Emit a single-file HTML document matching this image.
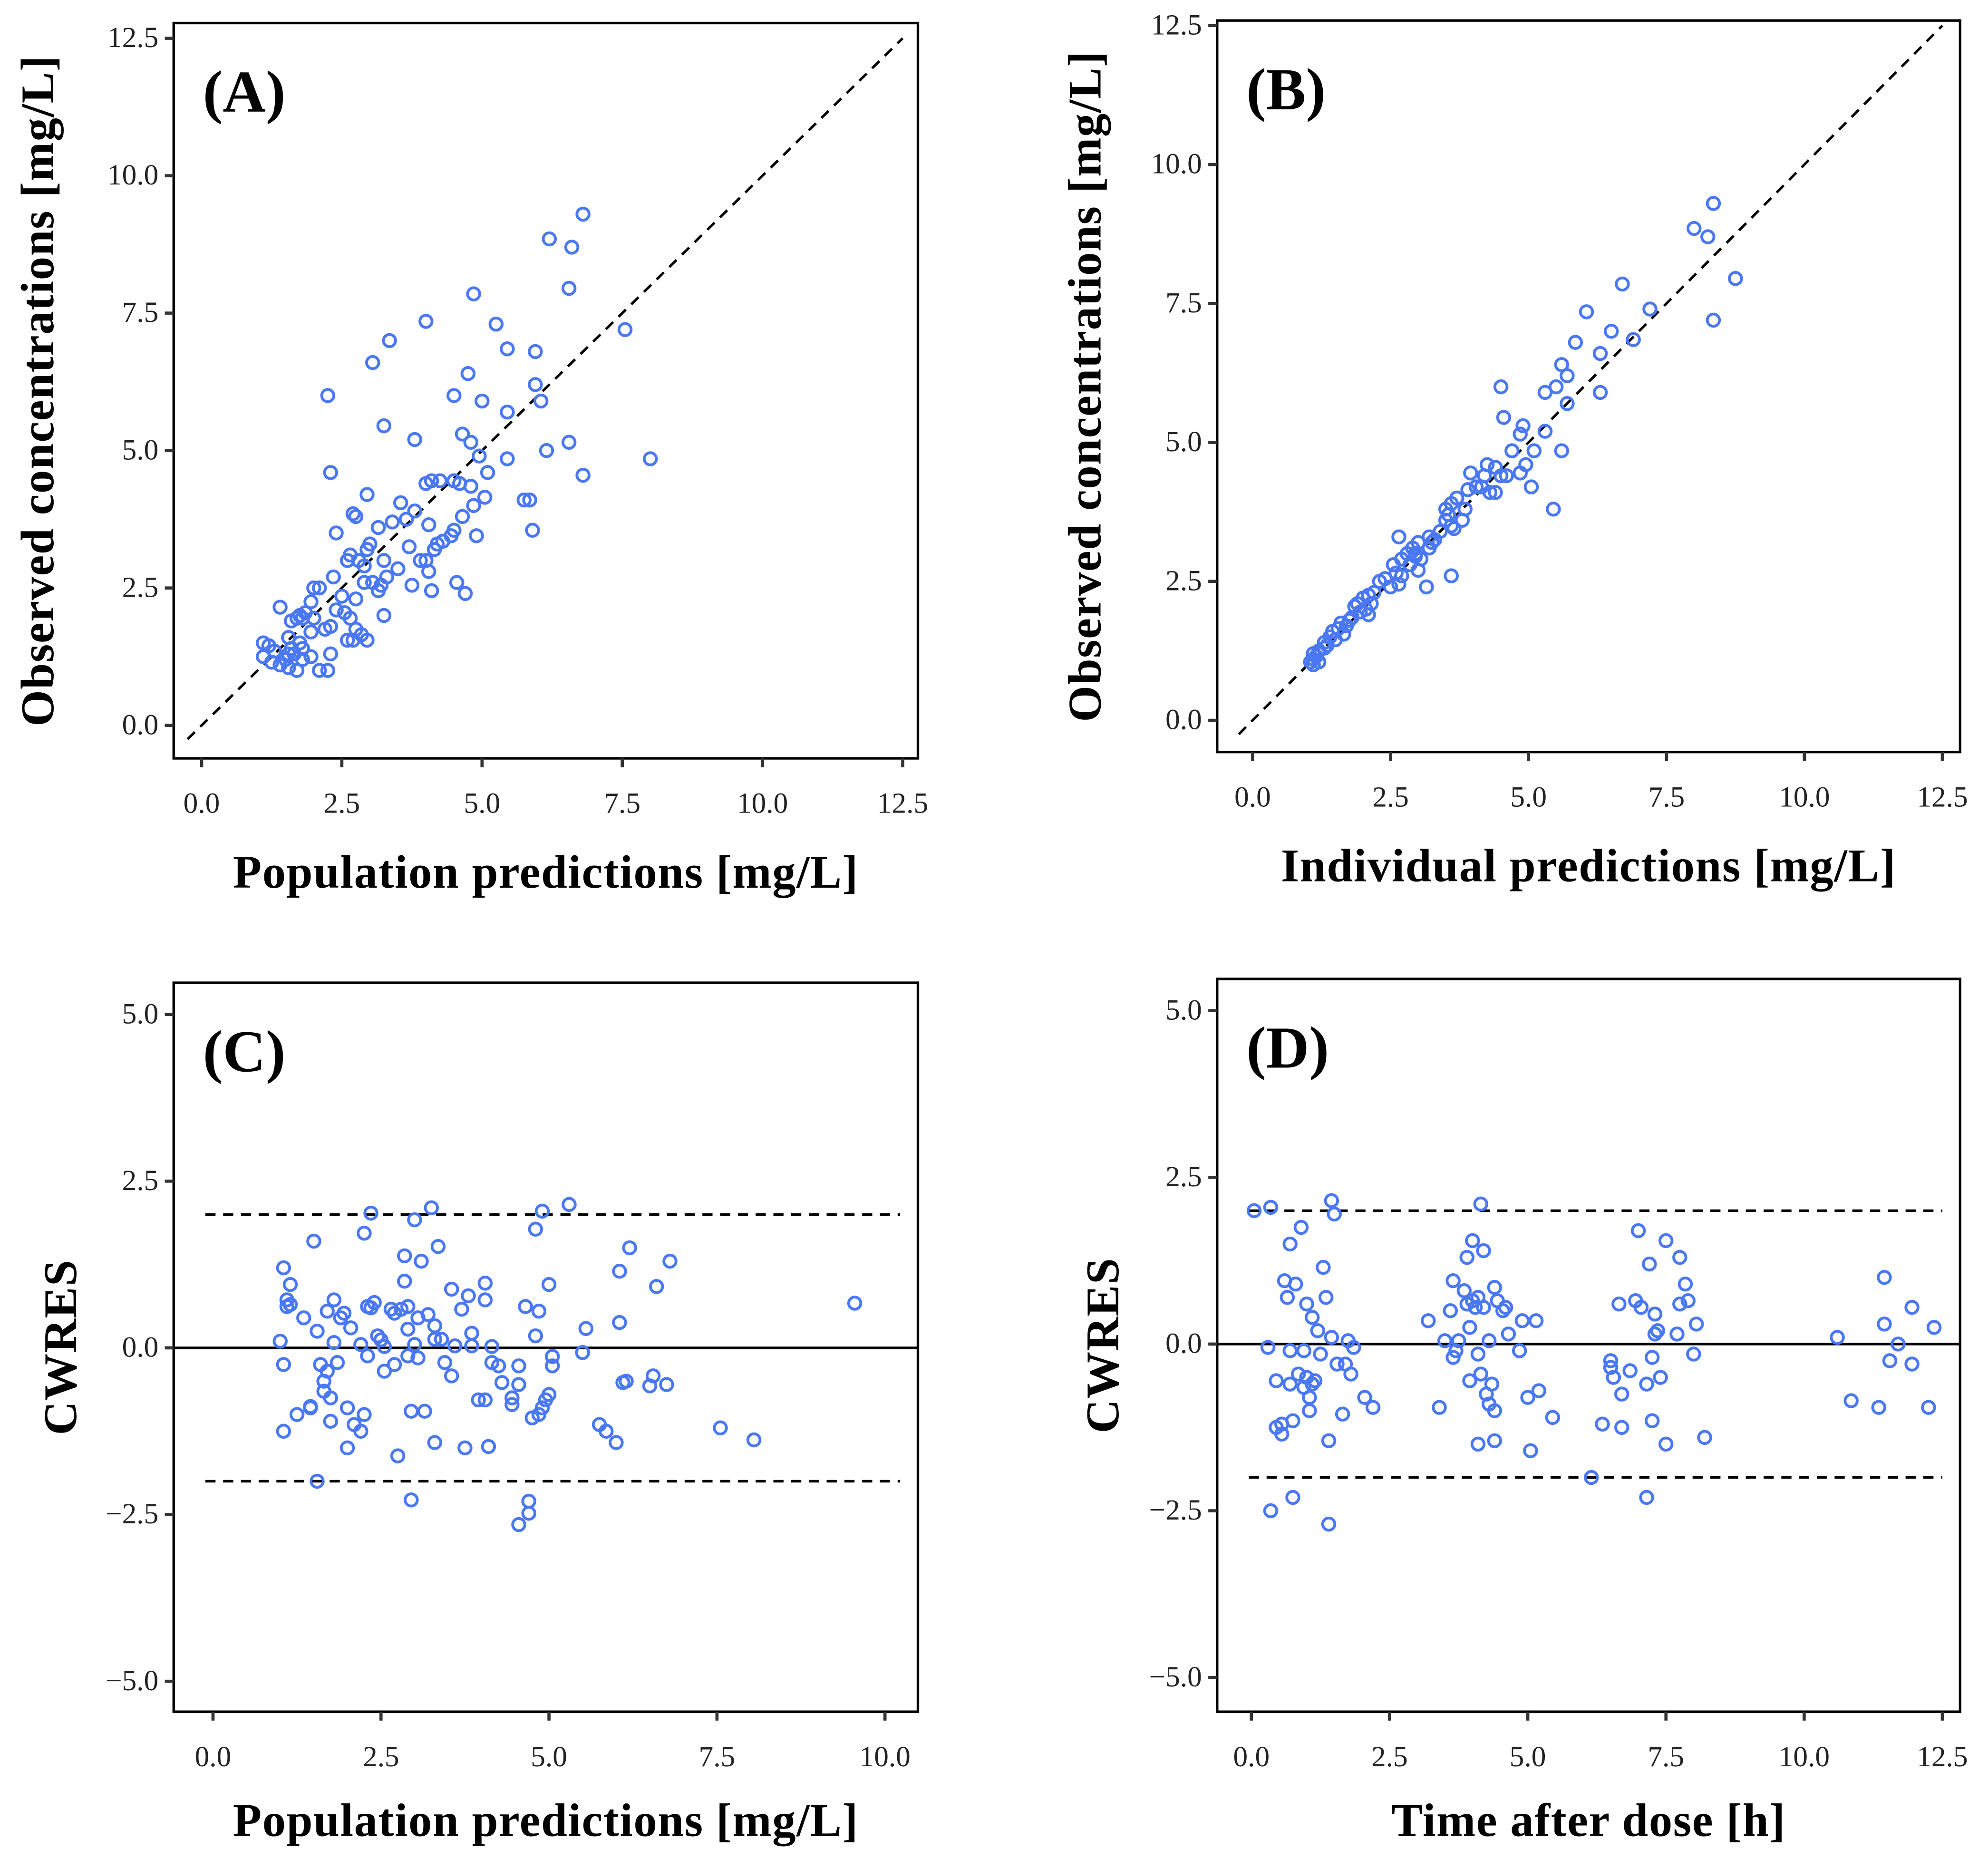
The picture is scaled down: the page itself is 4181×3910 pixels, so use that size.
<!DOCTYPE html>
<html><head><meta charset="utf-8"><style>
html,body{margin:0;padding:0;background:#fff;}
svg{display:block;}
.tick{font-family:"Liberation Serif",serif;font-size:23px;fill:#222;}
.title{font-family:"Liberation Serif",serif;font-weight:bold;font-size:37px;letter-spacing:0.6px;fill:#000;}
.plabel{font-family:"Liberation Serif",serif;font-weight:bold;font-size:47px;fill:#000;}
</style></head><body>
<svg id="fig" width="4181" height="3910" viewBox="0 0 1568 1466" xmlns="http://www.w3.org/2000/svg"></svg>
<script>
const aX=[6.8,6.2,6.6,6.55,4.85,4.0,5.25,7.55,3.35,3.05,5.45,5.95,4.75,5.95,2.25,4.5,6.05,5.0,5.45,3.25,4.65,3.8,4.8,6.55,6.15,4.95,5.45,8.0,2.3,5.1,6.8,4.1,4.25,4.5,4.6,4.0,4.8,2.95,5.05,4.85,5.75,5.85,3.55,3.8,2.7,2.75,4.65,3.65,3.4,4.05,3.15,4.5,5.9,2.4,4.45,4.9,3.0,4.2,4.3,3.7,4.15,2.95,2.65,3.25,2.8,2.6,4.0,3.9,2.9,3.5,3.3,2.35,3.05,4.05,2.9,3.2,3.75,2.1,2.0,3.15,4.1,4.55,4.7,2.5,2.75,1.95,1.4,2.4,3.25,2.55,1.85,1.75,1.7,1.6,2.0,1.8,2.65,2.3,2.2,2.75,1.95,2.85,1.55,2.6,2.7,2.95,1.1,1.75,1.2,1.6,1.8,1.3,1.55,1.65,2.3,1.95,1.1,1.8,1.25,1.4,1.55,1.7,2.1,2.25,1.5];
const aY=[9.3,8.85,8.7,7.95,7.85,7.35,7.3,7.2,7.0,6.6,6.85,6.8,6.4,6.2,6.0,6.0,5.9,5.9,5.7,5.45,5.3,5.2,5.15,5.15,5.0,4.9,4.85,4.85,4.6,4.6,4.55,4.45,4.45,4.45,4.4,4.4,4.35,4.2,4.15,4.0,4.1,4.1,4.05,3.9,3.85,3.8,3.8,3.75,3.7,3.65,3.6,3.55,3.55,3.5,3.45,3.45,3.3,3.3,3.35,3.25,3.2,3.2,3.1,3.0,3.0,3.0,3.0,3.0,2.9,2.85,2.7,2.7,2.6,2.8,2.6,2.55,2.55,2.5,2.5,2.45,2.45,2.6,2.4,2.35,2.3,2.25,2.15,2.1,2.0,2.05,2.05,2.0,1.95,1.9,1.95,1.95,1.95,1.8,1.75,1.75,1.7,1.65,1.6,1.55,1.55,1.55,1.5,1.5,1.45,1.4,1.4,1.35,1.3,1.3,1.3,1.25,1.25,1.2,1.15,1.1,1.05,1.0,1.0,1.0,1.2];
const bX=[8.35,8.0,8.25,8.75,6.7,7.2,6.05,8.35,6.5,6.9,5.85,6.3,5.6,5.7,5.5,4.5,5.3,6.3,5.7,4.55,5.3,4.9,4.85,5.1,5.6,4.7,4.95,4.25,4.4,4.5,4.6,3.95,4.2,4.85,4.05,5.05,3.9,4.3,4.4,3.7,3.6,3.85,5.45,3.5,3.55,3.5,3.8,3.6,3.65,3.4,3.2,2.65,3.25,3.0,2.9,3.2,2.8,2.95,3.05,2.7,2.55,2.85,3.0,2.6,2.7,3.6,2.4,2.3,2.65,3.15,2.5,2.2,2.1,2.0,2.15,1.9,1.85,2.05,1.95,2.1,1.8,1.75,1.6,1.7,1.55,1.45,1.65,1.4,1.5,1.3,1.35,1.2,1.1,1.15,1.1,1.05,1.1,1.2,1.3,4.15,3.3,2.95];
const bY=[9.3,8.85,8.7,7.95,7.85,7.4,7.35,7.2,7.0,6.85,6.8,6.6,6.4,6.2,6.0,6.0,5.9,5.9,5.7,5.45,5.2,5.3,5.15,4.85,4.85,4.85,4.6,4.6,4.55,4.4,4.4,4.45,4.4,4.45,4.2,4.2,4.15,4.1,4.1,4.0,3.9,3.8,3.8,3.8,3.7,3.6,3.6,3.5,3.45,3.4,3.3,3.3,3.2,3.2,3.1,3.1,3.0,2.95,2.9,2.9,2.8,2.8,2.7,2.65,2.6,2.6,2.55,2.5,2.45,2.4,2.4,2.3,2.25,2.2,2.1,2.1,2.05,2.0,1.95,1.9,1.85,1.8,1.75,1.7,1.65,1.6,1.55,1.5,1.45,1.4,1.35,1.25,1.2,1.15,1.1,1.05,1.0,1.05,1.3,4.2,3.25,3.0];
const cX=[9.55,8.05,7.55,6.8,6.75,6.6,6.55,6.5,6.2,6.05,6.05,6.15,6.1,6.0,5.85,5.75,5.55,5.5,5.3,5.05,5.05,5.0,4.95,4.9,4.85,4.75,5.0,4.9,4.8,4.85,4.8,4.65,4.55,4.55,4.45,4.45,4.7,4.7,4.55,4.25,4.3,4.15,4.15,4.1,4.05,4.05,3.95,4.05,3.85,3.85,3.8,3.7,3.75,3.6,3.55,3.55,3.4,3.45,3.35,3.3,3.3,3.25,3.3,3.2,3.15,3.1,3.05,3.05,3.0,3.0,2.95,2.95,2.9,2.9,2.9,2.85,2.85,2.8,2.75,2.7,2.7,2.65,2.55,2.55,2.5,2.45,2.4,2.35,2.3,2.35,2.25,2.3,2.25,2.2,2.2,2.1,2.05,2.0,2.0,1.95,1.9,1.85,1.8,1.8,1.75,1.75,1.7,1.7,1.65,1.65,1.6,1.55,1.55,1.5,1.45,1.45,1.35,1.25,1.15,1.1,1.15,1.05,1.1,1.05,1.0,1.05];
const cY=[0.67,-1.38,-1.2,1.3,-0.55,0.92,-0.42,-0.57,1.5,1.15,0.38,-0.5,-0.52,-1.42,-1.25,-1.15,0.29,-0.07,2.15,-0.13,-0.27,-0.7,-0.78,-0.9,-1.0,-1.05,0.95,2.05,1.78,0.55,0.18,0.62,-0.27,-0.55,-0.75,-0.85,-2.3,-2.48,-2.65,-0.27,-0.52,-0.22,0.02,-1.48,0.72,0.97,-0.78,-0.78,0.22,0.03,0.78,0.58,-1.5,0.03,0.88,-0.42,0.13,-0.22,1.52,0.33,0.13,2.1,-1.42,0.5,-0.95,1.3,0.45,-0.15,0.05,1.92,-0.95,-2.28,0.28,0.62,-0.12,1.38,1.0,0.58,-1.62,0.52,-0.25,0.58,-0.35,0.02,0.12,0.18,0.68,0.6,-0.12,2.02,1.72,0.62,-1.0,-1.25,0.05,-1.15,0.3,-0.9,-1.5,0.52,0.45,-0.22,0.72,0.08,-0.75,-1.1,0.55,-0.35,-0.5,-0.65,-0.25,0.25,-2.0,1.6,-0.9,-0.88,0.45,-1.0,0.65,0.72,0.95,1.2,0.62,-0.25,0.1,-1.25];
const dX=[0.05,0.35,0.3,0.35,0.45,0.45,0.55,0.55,0.6,0.65,0.7,0.7,0.7,0.75,0.75,0.8,0.85,0.9,0.95,0.95,1.0,1.0,1.05,1.05,1.1,1.1,1.15,1.2,1.25,1.3,1.35,1.4,1.4,1.45,1.5,1.45,1.55,1.65,1.7,1.75,1.8,1.85,2.05,2.2,3.2,3.4,3.5,3.6,3.65,3.65,3.7,3.75,3.85,3.9,3.9,3.95,3.95,4.0,4.0,4.05,4.1,4.1,4.1,4.15,4.15,4.2,4.2,4.25,4.3,4.3,4.35,4.4,4.4,4.4,4.45,4.55,4.6,4.65,4.85,4.9,5.0,5.05,5.15,5.2,5.45,6.15,6.35,6.5,6.5,6.55,6.65,6.7,6.7,6.85,6.95,7.0,7.05,7.15,7.15,7.2,7.25,7.25,7.3,7.3,7.35,7.4,7.5,7.5,7.7,7.75,7.75,7.85,7.9,8.0,8.05,8.2,10.6,10.85,11.35,11.45,11.45,11.55,11.7,11.95,11.95,12.25,12.35];
const dY=[2.0,2.05,-0.05,-2.5,-0.55,-1.25,-1.35,-1.2,0.95,0.7,1.5,-0.1,-0.6,-2.3,-1.15,0.9,-0.45,1.75,-0.1,-0.65,0.6,-0.5,-0.8,-1.0,0.4,-0.6,-0.55,0.2,-0.15,1.15,0.7,-1.45,-2.7,2.15,1.95,0.1,-0.3,-1.05,-0.3,0.05,-0.45,-0.05,-0.8,-0.95,0.35,-0.95,0.05,0.5,-0.2,0.95,-0.1,0.05,0.8,1.3,0.6,-0.55,0.25,1.55,0.65,0.55,-0.15,-1.5,0.7,2.1,-0.45,1.4,0.55,-0.75,-0.9,0.05,-0.6,0.85,-1.45,-1.0,0.65,0.5,0.55,0.15,-0.1,0.35,-0.8,-1.6,0.35,-0.7,-1.1,-2.0,-1.2,-0.25,-0.35,-0.5,0.6,-0.75,-1.25,-0.4,0.65,1.7,0.55,-2.3,-0.6,1.2,-0.2,-1.15,0.45,0.15,0.2,-0.5,1.55,-1.5,0.15,1.3,0.6,0.9,0.65,-0.15,0.3,-1.4,0.1,-0.85,-0.95,1.0,0.3,-0.25,0.0,0.55,-0.3,-0.95,0.25];
const ticksXYpanel=["0.0","2.5","5.0","7.5","10.0","12.5"];
const ticksC=["0.0","2.5","5.0","7.5","10.0"];
const ticksRes=["5.0","2.5","0.0","−2.5","−5.0"];

const NS="http://www.w3.org/2000/svg";
const svg=document.getElementById('fig');
function mk(tag,attrs,parent){const e=document.createElementNS(NS,tag);for(const k in attrs)e.setAttribute(k,attrs[k]);(parent||svg).appendChild(e);return e;}
function num(s){return parseFloat(s.replace('−','-'));}

function panel(cfg){
  const g=mk('g',{});
  
  
  const sx=v=>cfg.px0+(v-cfg.x0)*(cfg.px1-cfg.px0)/(cfg.x1-cfg.x0);
  const sy=v=>cfg.py0+(v-cfg.y0)*(cfg.py1-cfg.py0)/(cfg.y1-cfg.y0);
  const box=mk('rect',{x:cfg.bx0,y:cfg.by0,width:cfg.bx1-cfg.bx0,height:cfg.by1-cfg.by0,fill:'none',stroke:'#000','stroke-width':2},g);
  
  cfg.xt.forEach(t=>{const v=num(t),x=sx(v);
    mk('line',{x1:x,x2:x,y1:cfg.by1,y2:cfg.by1+7,stroke:'#333','stroke-width':2.5},g);
    const tx=mk('text',{x:x,y:cfg.by1+43,'text-anchor':'middle',class:'tick'},g);tx.textContent=t;
    });
  cfg.yt.forEach(t=>{const v=num(t),y=sy(v);
    mk('line',{x1:cfg.bx0-7,x2:cfg.bx0,y1:y,y2:y,stroke:'#333','stroke-width':2.5},g);
    const tx=mk('text',{x:cfg.bx0-12,y:y+7,'text-anchor':'end',class:'tick'},g);tx.textContent=t;
    });
  if(cfg.diag){const l=mk('line',{x1:sx(-0.25),y1:sy(-0.25),x2:sx(12.5),y2:sy(12.5),stroke:'#000','stroke-width':2,'stroke-dasharray':'8,6'},g);
    }
  if(cfg.res){
    [2,-2].forEach(v=>{const l=mk('line',{x1:cfg.bx0+25,x2:cfg.bx1-14,y1:sy(v),y2:sy(v),stroke:'#000','stroke-width':2,'stroke-dasharray':'8,6'},g);
      });
    const z=mk('line',{x1:cfg.bx0,x2:cfg.bx1,y1:sy(0),y2:sy(0),stroke:'#000','stroke-width':2},g);
    
  }
  cfg.X.forEach((v,i)=>{const c=mk('circle',{cx:sx(v),cy:sy(cfg.Y[i]),r:4.8,fill:'none',stroke:'#4a78f5','stroke-width':2.2},g);
    });
  const pl=mk('text',{x:cfg.bx0+23,y:cfg.by0+70,class:'plabel'},g);pl.textContent=cfg.label;
  
  const xt=mk('text',{x:(cfg.bx0+cfg.bx1)/2,y:cfg.xty,'text-anchor':'middle',class:'title'},g);xt.textContent=cfg.xtitle;
  
  const yc=(cfg.by0+cfg.by1)/2;
  const yt=mk('text',{x:cfg.ytx,y:yc,'text-anchor':'middle',class:'title',transform:`rotate(-90 ${cfg.ytx} ${yc})`},g);yt.textContent=cfg.ytitle;
  
}
panel({name:'panel-a',label:'(A)',X:aX,Y:aY,xt:ticksXYpanel,yt:ticksXYpanel,diag:true,
  bx0:137,bx1:724,by0:18,by1:598,x0:0,x1:12.5,px0:159,px1:712,y0:0,y1:12.5,py0:572,py1:30,
  xtitle:'Population predictions [mg/L]',xty:700,ytitle:'Observed concentrations [mg/L]',ytx:42});
panel({name:'panel-b',label:'(B)',X:bX,Y:bY,xt:ticksXYpanel,yt:ticksXYpanel,diag:true,
  bx0:960,bx1:1546,by0:16,by1:593,x0:0,x1:12.5,px0:988,px1:1532,y0:0,y1:12.5,py0:568,py1:20,
  xtitle:'Individual predictions [mg/L]',xty:695,ytitle:'Observed concentrations [mg/L]',ytx:868});
panel({name:'panel-c',label:'(C)',X:cX,Y:cY,xt:ticksC,yt:ticksRes,res:true,
  bx0:137,bx1:724,by0:775,by1:1350,x0:0,x1:10,px0:168,px1:698,y0:5,y1:-5,py0:800,py1:1326,
  xtitle:'Population predictions [mg/L]',xty:1448,ytitle:'CWRES',ytx:60});
panel({name:'panel-d',label:'(D)',X:dX,Y:dY,xt:ticksXYpanel,yt:ticksRes,res:true,
  bx0:960,bx1:1546,by0:772,by1:1350,x0:0,x1:12.5,px0:987,px1:1532,y0:5,y1:-5,py0:797,py1:1323,
  xtitle:'Time after dose [h]',xty:1448,ytitle:'CWRES',ytx:882});
</script>
</body></html>
